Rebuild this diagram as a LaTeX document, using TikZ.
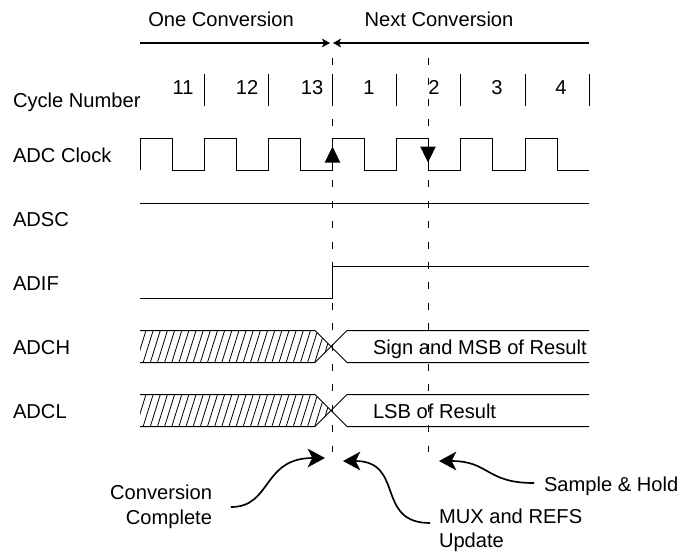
\documentclass[tikz,border=0pt]{standalone}
\usepackage{fontspec}
\setmainfont{Liberation Sans}
\usetikzlibrary{arrows.meta}
\tikzset{
  lab/.style={inset,anchor=west},
  inset/.style={inner sep=0pt,outer sep=0pt,text height=11pt,text depth=0pt,font=\fontsize{15.1}{18}\selectfont},
  sig/.style={line width=0.75pt,line join=miter},
  tick/.style={line width=0.7pt},
  guide/.style={line width=0.7pt,dash pattern=on 5.25pt off 10.05pt},
  span/.style={line width=0.9pt,-{Stealth[length=6pt,width=6.5pt,inset=1.5pt]}},
  callout/.style={line width=1.25pt,-{Stealth[length=13pt,width=14pt,inset=3.5pt]}},
  solidmark/.style={fill=black,draw=none},
  hatchline/.style={line width=0.6pt}
}
\begin{document}
\begin{tikzpicture}[x=0.75pt,y=-0.75pt]
\useasboundingbox (0,0) rectangle (680,553);
% text
\node[inset] (one) at (221,19) {One Conversion};
\node[inset] (next) at (439,19) {Next Conversion};
\node[lab] (cyc) at (13,100) {Cycle Number};
\node[lab] (clk) at (13,155) {ADC Clock};
\node[lab] (adsc) at (13,219) {ADSC};
\node[lab] (adif) at (13,283) {ADIF};
\node[lab] (adch) at (13,347) {ADCH};
\node[lab] (adcl) at (13,411) {ADCL};
\node[inset] (n11) at (183,87) {11};
\node[inset] (n12) at (247,87) {12};
\node[inset] (n13) at (312,87) {13};
\node[inset] (n1) at (369,87) {1};
\node[inset] (n2) at (434,87) {2};
\node[inset] (n3) at (497,87) {3};
\node[inset] (n4) at (561,87) {4};
\node[lab] (sign) at (373,347) {Sign and MSB of Result};
\node[lab] (lsb) at (373,411) {LSB of Result};
\node[inset,anchor=east] (conv) at (212,492) {Conversion};
\node[inset,anchor=east] (comp) at (212,517) {Complete};
\node[lab] (mux) at (439,516) {MUX and REFS};
\node[lab] (upd) at (439,540) {Update};
\node[lab] (sh) at (544,484) {Sample \& Hold};
% span arrows
\coordinate (sL) at (140,43); \coordinate (sM) at (330,43);
\coordinate (sM2) at (333,43); \coordinate (sR) at (589,43);
\draw[span] (sL) -- (sM);
\draw[span] (sR) -- (sM2);
% cycle ticks
\foreach \i/\x in {a/204,b/268.5,c/332.5,d/396.5,e/460.5,f/525,g/589}{
  \coordinate (t\i) at (\x,74); \coordinate (u\i) at (\x,106);
  \draw[tick] (t\i) -- (u\i);
}
% clock
\draw[sig] (140,170) -- (140,138) -- (172,138) -- (172,170) -- (204,170) -- (204,138)
  -- (236,138) -- (236,170) -- (268,170) -- (268,138) -- (300,138) -- (300,170)
  -- (332.5,170) -- (332.5,138) -- (364.5,138) -- (364.5,170) -- (396.5,170) -- (396.5,138)
  -- (428,138) -- (428,170) -- (460.5,170) -- (460.5,138) -- (492.5,138) -- (492.5,170)
  -- (525,170) -- (525,138) -- (557,138) -- (557,170) -- (589,170);
% guides
\coordinate (g1t) at (332.5,58); \coordinate (g1b) at (332.5,452);
\coordinate (g2t) at (428,58); \coordinate (g2b) at (428,452);
\draw[guide] (g1t) -- (g1b);
\draw[guide] (g2t) -- (g2b);
% clock edge marks
\fill[solidmark] (332.5,146.5) -- (340.3,162.5) -- (324.7,162.5) -- cycle;
\fill[solidmark] (428,162.5) -- (435.8,146.5) -- (420.2,146.5) -- cycle;
% ADSC, ADIF
\coordinate (a1) at (140,203); \coordinate (a2) at (589,203);
\draw[sig] (a1) -- (a2);
\draw[sig] (140,298) -- (332.5,298) -- (332.5,266) -- (589,266);
% buses
\foreach \t/\b/\m in {330.5/362.5/346.5,394.5/426.5/410.5}{
  \begin{scope}
    \clip (140,\t) -- (315,\t) -- (331,\m) -- (315,\b) -- (140,\b) -- cycle;
    \foreach \k in {0,...,27}{
      \draw[hatchline] ({136+\k*7.15},\b) -- ({146+\k*7.15},\t);
    }
  \end{scope}
  \draw[sig] (140,\t) -- (315,\t) -- (347,\b) -- (589,\b);
  \draw[sig] (140,\b) -- (315,\b) -- (347,\t) -- (589,\t);
}
% callouts
\coordinate (c1s) at (231,507); \coordinate (c1e) at (325,458);
\coordinate (c2s) at (430,523); \coordinate (c2e) at (343,461);
\coordinate (c3s) at (534,483); \coordinate (c3e) at (439,461);
\draw[callout] (c1s) .. controls (272,507) and (262,458) .. (c1e);
\draw[callout] (c2s) .. controls (375,523) and (405,461) .. (c2e);
\draw[callout] (c3s) .. controls (485,483) and (490,461) .. (c3e);
\end{tikzpicture}
\end{document}
